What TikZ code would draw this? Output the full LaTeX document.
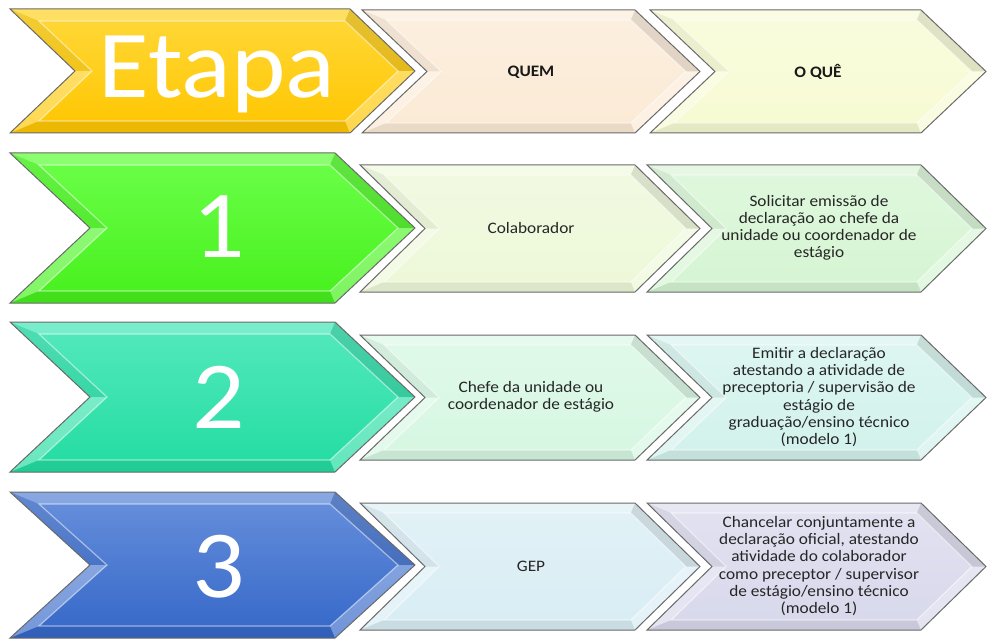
\documentclass[tikz,border=0pt]{standalone}
\usepackage{fontspec}
\setmainfont{Carlito}
\newfontfamily\bodyfont[FakeStretch=1.08]{Carlito}
\definecolor{yelT}{HTML}{FFD83A}\definecolor{yelB}{HTML}{FFC600}
\definecolor{grnT}{HTML}{6CFF4A}\definecolor{grnB}{HTML}{46F01C}
\definecolor{tealT}{HTML}{55E9BE}\definecolor{tealB}{HTML}{22DCA0}
\definecolor{bluT}{HTML}{6890DC}\definecolor{bluB}{HTML}{3467C8}
\definecolor{peach}{HTML}{FBEAD5}\definecolor{paleY}{HTML}{F7FBD2}
\definecolor{colab}{HTML}{EDF8D8}\definecolor{lgreen}{HTML}{D5F5D2}
\definecolor{mint}{HTML}{D6F7E2}\definecolor{lteal}{HTML}{D2F2EC}
\definecolor{lblue}{HTML}{D8EDF4}\definecolor{lav}{HTML}{D8D8EC}
\definecolor{edge}{HTML}{6A6A6A}
\tikzset{
  bigtxt/.style={font=\bodyfont\fontsize{96}{96}\selectfont, text=white, inner sep=0pt, anchor=base},
  txt/.style={font=\bodyfont\fontsize{16}{17.2}\selectfont, text=black!85, align=center, inner sep=0pt},
  hdr/.style={font=\bodyfont\bfseries\fontsize{16}{17.2}\selectfont, text=black!90, align=center, inner sep=0pt}
}
% #1 x0 #2 ytop #3 x1 #4 ybottom #5 depth #6 bevel #7 top colour #8 bottom colour
\newcommand\chevbox[8]{%
  \pgfmathsetmacro\cvym{(#2+#4)/2}%
  \path (#1,#2) coordinate (cA) (#3-#5,#2) coordinate (cB) (#3,\cvym) coordinate (cC)
        (#3-#5,#4) coordinate (cD) (#1,#4) coordinate (cE) (#1+#5,\cvym) coordinate (cF)
        (#1+2.414*#6,#2+#6) coordinate (iA) (#3-#5-0.414*#6,#2+#6) coordinate (iB)
        (#3-1.414*#6,\cvym) coordinate (iC) (#3-#5-0.414*#6,#4-#6) coordinate (iD)
        (#1+2.414*#6,#4-#6) coordinate (iE) (#1+#5+1.414*#6,\cvym) coordinate (iF);
  \shade[top color=#7,bottom color=#8] (cA)--(cB)--(cC)--(cD)--(cE)--(cF)--cycle;
  \fill[white,opacity=.22] (cA)--(cB)--(iB)--(iA)--cycle;
  \fill[black,opacity=.05] (cA)--(iA)--(iF)--(cF)--cycle;
  \fill[white,opacity=.32] (cF)--(iF)--(iE)--(cE)--cycle;
  \fill[black,opacity=.07] (cE)--(iE)--(iD)--(cD)--cycle;
  \fill[white,opacity=.30] (cD)--(iD)--(iC)--(cC)--cycle;
  \fill[black,opacity=.10] (cC)--(iC)--(iB)--(cB)--cycle;
  \draw[white,line width=1.2pt,opacity=.5] (iA)--(iB)--(iC)--(iD)--(iE)--(iF)--cycle;
  \draw[edge,line width=1pt,line join=miter] (cA)--(cB)--(cC)--(cD)--(cE)--(cF)--cycle;
}
\begin{document}
\begin{tikzpicture}[x=1pt,y=-1pt]
\useasboundingbox (0,0) rectangle (987,639);
% row 0
\chevbox{10}{9}{415}{133}{65}{12}{yelT}{yelB}
\chevbox{362}{10}{700}{133}{65}{10}{peach!75!white}{peach}
\chevbox{650}{10}{986}{133}{65}{10}{paleY!75!white}{paleY}
% row 1
\chevbox{10}{153}{415}{303}{80}{12}{grnT}{grnB}
\chevbox{360}{165}{700}{292}{65}{10}{colab!75!white}{colab}
\chevbox{647}{165}{986}{292}{65}{10}{lgreen!75!white}{lgreen}
% row 2
\chevbox{10}{322}{415}{472}{80}{12}{tealT}{tealB}
\chevbox{360}{335}{700}{460}{65}{10}{mint!75!white}{mint}
\chevbox{647}{335}{986}{460}{65}{10}{lteal!75!white}{lteal}
% row 3
\chevbox{10}{492}{415}{638}{80}{12}{bluT}{bluB}
\chevbox{360}{503}{700}{630}{65}{10}{lblue!75!white}{lblue}
\chevbox{647}{503}{986}{630}{65}{10}{lav!75!white}{lav}
% texts
\node[bigtxt] (etapa) at (217,98) {Etapa};
\node[hdr] (quem) at (531,72) {QUEM};
\node[hdr] (oque) at (818,72) {O QUÊ};
\node[bigtxt] (s1) at (219,257) {1};
\node[txt] (w1) at (531,228) {Colaborador};
\node[txt] (q1) at (819,228) {Solicitar emissão de\\declaração ao chefe da\\unidade ou coordenador de\\estágio};
\node[bigtxt] (s2) at (219,428) {2};
\node[txt] (w2) at (531,397) {Chefe da unidade ou\\coordenador de estágio};
\node[txt] (q2) at (819,397) {Emitir a declaração\\atestando a atividade de\\preceptoria / supervisão de\\estágio de\\graduação/ensino técnico\\(modelo 1)};
\node[bigtxt] (s3) at (219,597) {3};
\node[txt] (w3) at (531,566) {GEP};
\node[txt] (q3) at (819,566) {Chancelar conjuntamente a\\declaração oficial, atestando\\atividade do colaborador\\como preceptor / supervisor\\de estágio/ensino técnico\\(modelo 1)};
\end{tikzpicture}
\end{document}
